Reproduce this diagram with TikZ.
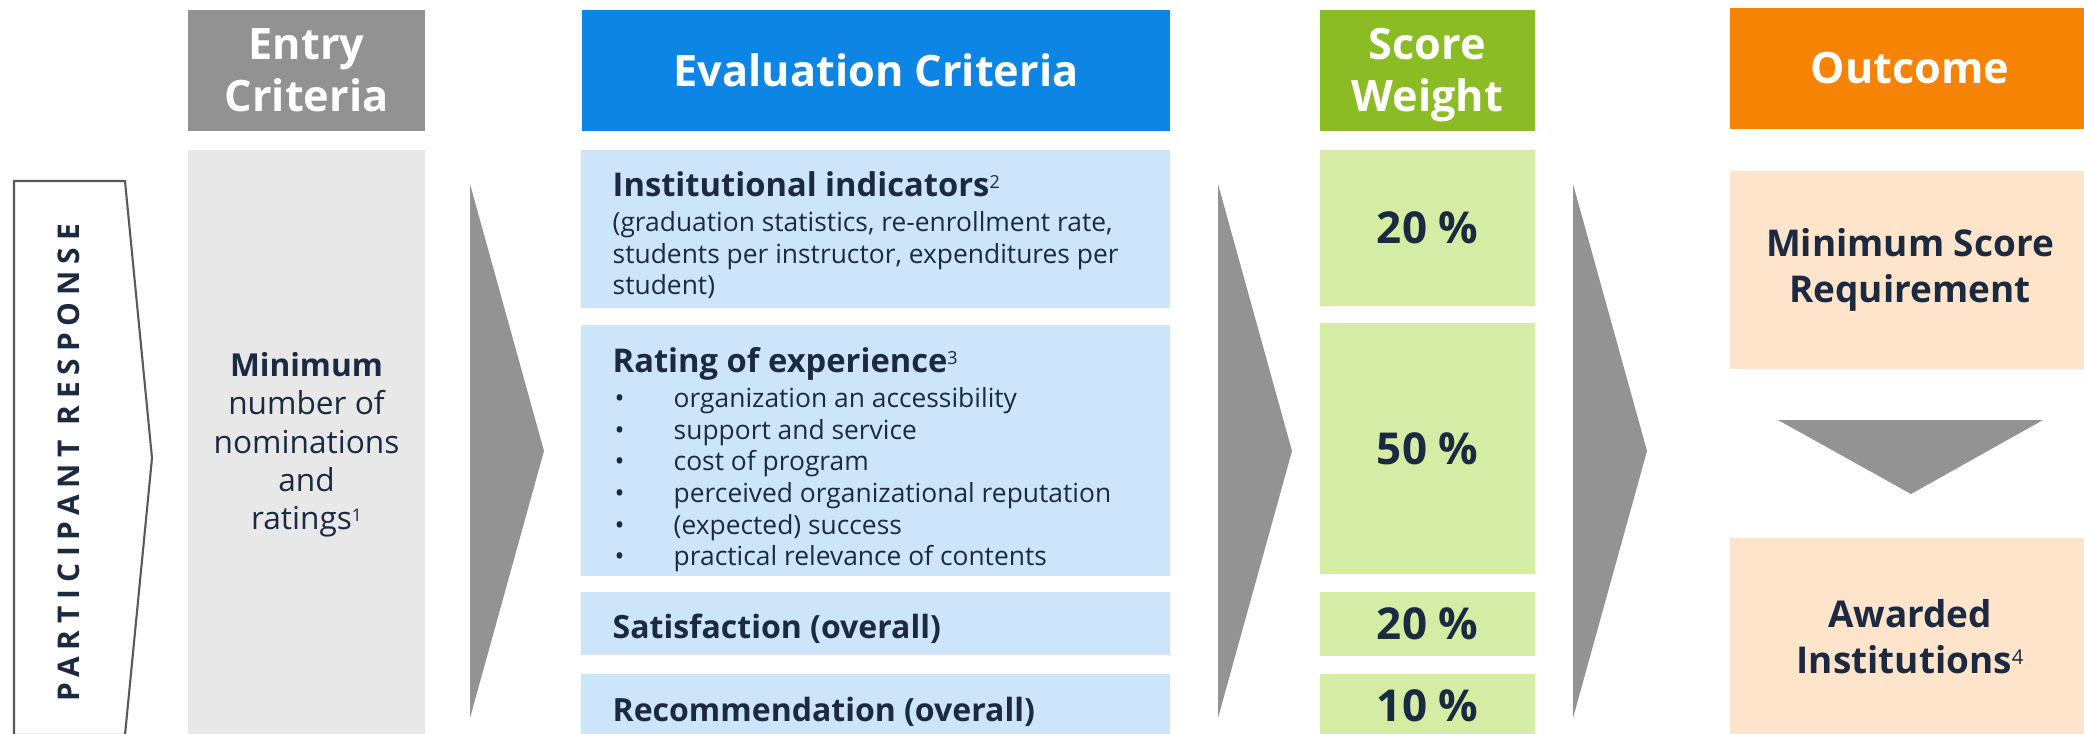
\documentclass[tikz,border=0pt]{standalone}
\usepackage{fontspec}
\setmainfont{Open Sans}
\definecolor{headgray}{HTML}{929292}
\definecolor{headblue}{HTML}{0C85E4}
\definecolor{headgreen}{HTML}{8BBC24}
\definecolor{headorange}{HTML}{F68303}
\definecolor{bodygray}{HTML}{E8E8E8}
\definecolor{bodyblue}{HTML}{CCE5FA}
\definecolor{bodygreen}{HTML}{D4ECA3}
\definecolor{bodyorange}{HTML}{FDE4CB}
\definecolor{arrowgray}{HTML}{939393}
\definecolor{navy}{HTML}{1B2A41}
\makeatletter
\newcommand\supmark[1]{\raisebox{0.25em}{\fontsize{\strip@pt\dimexpr0.55\dimexpr\f@size pt\relax\relax}{0}\selectfont\mdseries#1}}
\makeatother

\begin{document}
\begin{tikzpicture}[x=0.01cm,y=-0.01cm,
    colhead/.style={inner sep=0pt,text=white,align=center,minimum height=1.21cm,
      font=\fontsize{12.3}{14.8}\selectfont\bfseries},
    critbox/.style={inner sep=0pt,fill=bodyblue,minimum width=5.89cm},
    crittext/.style={inner sep=0pt,text=navy,align=left,font=\fontsize{7.5}{9}\selectfont},
    wtbox/.style={inner sep=0pt,fill=bodygreen,text=navy,minimum width=2.15cm,
      font=\fontsize{12.5}{15}\selectfont\bfseries},
    outbox/.style={inner sep=0pt,fill=bodyorange,text=navy,align=center,minimum width=3.6cm,
      minimum height=1.98cm,font=\fontsize{10.5}{13}\selectfont\bfseries}]
  \useasboundingbox (0,0) rectangle (2084,733);

  % column heads
  \node[colhead,fill=headgray,minimum width=2.37cm] (h-1) at (306.5,70.5) {Entry\\Criteria};
  \node[colhead,fill=headblue,minimum width=5.88cm] (h-2) at (876,70.5) {Evaluation Criteria};
  \node[colhead,fill=headgreen,minimum width=2.15cm] (h-3) at (1427.5,70.5) {Score\\Wei\smash{g}ht};
  \node[colhead,fill=headorange,minimum width=3.6cm] (h-4) at (1910,68.5) {Outcome};

  % participant response
  \draw[draw=black!65,line width=0.6pt] (14,181) -- (125,181) -- (152,458) -- (125,735) -- (14,735) -- cycle;
  \node[rotate=90,inner sep=0pt,text=navy,
    font=\fontsize{8.5}{10}\selectfont\bfseries\addfontfeatures{LetterSpace=23}] (resp) at (69,463) {PARTICIPANT RESPONSE};

  % entry criteria
  \node[inner sep=0pt,fill=bodygray,text=navy,align=center,minimum width=2.37cm,minimum height=5.9cm,
    font=\fontsize{9}{10.9}\selectfont] (entry) at (306.5,445)
    {\textbf{Minimum}\\number of\\nominations\\and\\ratings\supmark{1}};

  % arrows between columns
  \foreach \x in {470,1218,1573}
    \fill[arrowgray] (\x,184) -- ++(74,267) -- ++(-74,267) -- cycle;

  % evaluation criteria
  \node[critbox,minimum height=1.58cm] (crit-1) at (875.5,229) {};
  \node[critbox,minimum height=2.51cm] (crit-2) at (875.5,450.5) {};
  \node[critbox,minimum height=0.63cm] (crit-3) at (875.5,623.5) {};
  \node[critbox,minimum height=0.71cm] (crit-4) at (875.5,709.5) {};

  \node[crittext,anchor=north west] (ind) at (612,160.4)
    {\rule{0pt}{10pt}{\fontsize{9.3}{11}\selectfont\bfseries Institutional indicators\supmark{2}}\\[1pt]
     (graduation statistics, re-enrollment rate,\\
     students per instructor, expenditures per\\
     student)};
  \node[crittext,anchor=north west] (exp) at (612,336.4)
    {\rule{0pt}{10pt}{\fontsize{9.3}{11}\selectfont\bfseries Rating of experience\supmark{3}}\\[1pt]
     \makebox[0.61cm][l]{\hspace{0.02cm}\textbullet}organization an accessibility\\
     \makebox[0.61cm][l]{\hspace{0.02cm}\textbullet}support and service\\
     \makebox[0.61cm][l]{\hspace{0.02cm}\textbullet}cost of program\\
     \makebox[0.61cm][l]{\hspace{0.02cm}\textbullet}perceived organizational reputation\\
     \makebox[0.61cm][l]{\hspace{0.02cm}\textbullet}(expected) success\\
     \makebox[0.61cm][l]{\hspace{0.02cm}\textbullet}practical relevance of contents};
  \node[crittext,anchor=base west,font=\fontsize{9.1}{11}\selectfont\bfseries] (sat) at (612,638.5) {Satisfaction (overall)};
  \node[crittext,anchor=base west,font=\fontsize{9.1}{11}\selectfont\bfseries] (rec) at (612,721) {Recommendation (overall)};

  % score weights
  \node[wtbox,minimum height=1.56cm] (wt-1) at (1427.5,228) {20 \%};
  \node[wtbox,minimum height=2.51cm] (wt-2) at (1427.5,448.5) {50 \%};
  \node[wtbox,minimum height=0.64cm] (wt-3) at (1427.5,624) {20 \%};
  \node[wtbox,minimum height=0.64cm] (wt-4) at (1427.5,706) {10 \%};

  % outcome
  \node[outbox] (req) at (1910,270) {Minimum Score\\Requirement};
  \fill[arrowgray] (1778,420) -- (2043,420) -- (1911,494) -- cycle;
  \node[outbox] (award) at (1910,637) {Awarded\\Institutions\supmark{4}};
\end{tikzpicture}
\end{document}
